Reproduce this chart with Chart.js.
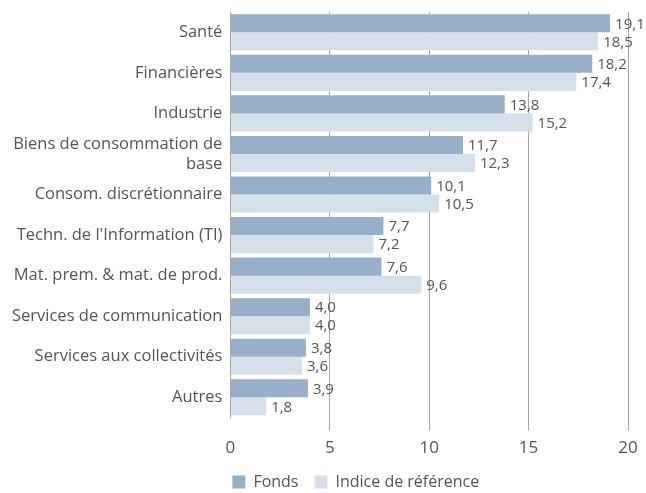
<!DOCTYPE html>
<html>
<head>
<meta charset="utf-8">
<script src="https://cdn.jsdelivr.net/npm/chart.js@4/dist/chart.umd.min.js"></script>
<style>
  html, body { margin: 0; padding: 0; background: #ffffff; }
  #wrap { width: 646px; height: 493px; position: relative; }
</style>
</head>
<body>
<div id="wrap"><canvas id="c" width="646" height="493"></canvas></div>
<script>
const categories = [
  'Santé',
  'Financières',
  'Industrie',
  ['Biens de consommation de', 'base'],
  'Consom. discrétionnaire',
  "Techn. de l'Information (TI)",
  'Mat. prem. & mat. de prod.',
  'Services de communication',
  'Services aux collectivités',
  'Autres'
];
const fondsValues = [19.1, 18.2, 13.8, 11.7, 10.1, 7.7, 7.6, 4.0, 3.8, 3.9];
const indiceValues = [18.5, 17.4, 15.2, 12.3, 10.5, 7.2, 9.6, 4.0, 3.6, 1.8];
const seriesNames = ['Fonds', 'Indice de référence'];
const xTicks = [0, 5, 10, 15, 20];

const FONT = "'Open Sans', 'Noto Sans', sans-serif";
const TEXT = '#555555';

const valueLabels = {
  id: 'valueLabels',
  afterDatasetsDraw(chart) {
    const ctx = chart.ctx;
    ctx.save();
    ctx.font = '15px ' + FONT;
    ctx.fillStyle = TEXT;
    ctx.textAlign = 'left';
    ctx.textBaseline = 'middle';
    chart.data.datasets.forEach((ds, di) => {
      const meta = chart.getDatasetMeta(di);
      meta.data.forEach((el, i) => {
        const v = ds.data[i];
        ctx.fillText(v.toFixed(1).replace('.', ','), el.x + 5, el.y + 1);
      });
    });
    ctx.restore();
  }
};

const legendShift = {
  id: 'legendShift',
  afterLayout(chart) {
    const lg = chart.legend;
    const pad = lg.options.labels.padding;
    const w = lg.right - lg.left;
    const h = lg.bottom - lg.top;
    lg.left = chart.chartArea.left + 2 - pad;
    lg.right = lg.left + w;
    lg.top = lg.top - 7;
    lg.bottom = lg.top + h;
  }
};

new Chart(document.getElementById('c'), {
  type: 'bar',
  data: {
    labels: categories,
    datasets: [
      { label: seriesNames[0], data: fondsValues, backgroundColor: '#98AFCA', borderWidth: 0,
        categoryPercentage: 0.89, barPercentage: 1.0 },
      { label: seriesNames[1], data: indiceValues, backgroundColor: '#D5E0EA', borderWidth: 0,
        categoryPercentage: 0.89, barPercentage: 1.0 }
    ]
  },
  options: {
    indexAxis: 'y',
    responsive: false,
    animation: false,
    devicePixelRatio: 1,
    layout: { padding: { top: 12, right: 18, left: 4, bottom: -14 } },
    plugins: {
      legend: {
        position: 'bottom',
        align: 'start',
        labels: {
          boxWidth: 13, boxHeight: 13, padding: 16,
          color: TEXT,
          font: { family: FONT, size: 16 }
        }
      },
      tooltip: { enabled: false }
    },
    scales: {
      x: {
        min: 0, max: 20,
        afterBuildTicks(scale) { scale.ticks = xTicks.map(v => ({ value: v })); },
        grid: {
          color: (c) => c.tick && c.tick.value === 0 ? 'rgba(0,0,0,0)' : '#A6A6A6',
          lineWidth: 1,
          drawTicks: true,
          tickLength: 13
        },
        border: { display: false },
        ticks: { color: TEXT, font: { family: FONT, size: 17 }, padding: 7 }
      },
      y: {
        afterFit(scale) { scale.paddingTop = 0; scale.paddingBottom = 0; },
        grid: { display: false, drawTicks: false },
        border: { display: true, color: '#A6A6A6', width: 1 },
        ticks: { color: TEXT, autoSkip: false, font: { family: FONT, size: 16.5, lineHeight: 1.2 }, padding: 8 }
      }
    }
  },
  plugins: [valueLabels, legendShift]
});
</script>
</body>
</html>
